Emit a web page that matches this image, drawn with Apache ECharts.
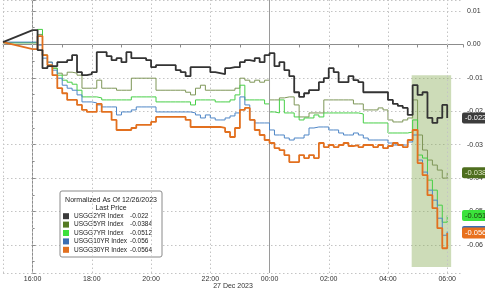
<!DOCTYPE html>
<html><head><meta charset="utf-8">
<script src="https://cdn.jsdelivr.net/npm/echarts@6/dist/echarts.min.js"></script>
<style>html,body{margin:0;padding:0;background:#fff}#c{width:485px;height:291px}</style>
</head><body><div id="c"></div>
<script>
const TIMES = ["16:00","16:10","16:20","16:30","16:40","16:50",
"17:00","17:10","17:20","17:30","17:40","17:50",
"18:00","18:10","18:20","18:30","18:40","18:50",
"19:00","19:10","19:20","19:30","19:40","19:50",
"20:00","20:10","20:20","20:30","20:40","20:50",
"21:00","21:10","21:20","21:30","21:40","21:50",
"22:00","22:10","22:20","22:30","22:40","22:50",
"23:00","23:10","23:20","23:30","23:40","23:50",
"00:00","00:10","00:20","00:30","00:40","00:50",
"01:00","01:10","01:20","01:30","01:40","01:50",
"02:00","02:10","02:20","02:30","02:40","02:50",
"03:00","03:10","03:20","03:30","03:40","03:50",
"04:00","04:10","04:20","04:30","04:40","04:50",
"05:00","05:10","05:20","05:30","05:40","05:50",
"06:00"];
const OPEN_TIME = "15:00";
const SERIES_NAMES = ["USGG2YR Index","USGG5YR Index","USGG7YR Index","USGG10YR Index","USGG30YR Index"];
const OPEN_VALUES = [0.0007, 0.0005, 0.0005, 0.0007, 0.0007];
const US2Y = [0.0043,-0.0017,-0.0071,-0.0065,-0.0065,-0.0053,-0.0053,-0.0047,-0.0032,-0.0083,
-0.0092,-0.0089,-0.0083,-0.0023,-0.0023,-0.0035,-0.0047,-0.0041,-0.0053,-0.0023,
-0.0041,-0.0041,-0.0041,-0.0047,-0.0068,-0.0062,-0.0062,-0.0062,-0.0062,-0.0077,
-0.0083,-0.0095,-0.0068,-0.0068,-0.0068,-0.0068,-0.0083,-0.0086,-0.0089,-0.0071,
-0.0068,-0.0068,-0.0053,-0.0047,-0.0050,-0.0041,-0.0053,-0.0032,-0.0026,-0.0065,
-0.0053,-0.0077,-0.0095,-0.0143,-0.0157,-0.0146,-0.0137,-0.0137,-0.0113,-0.0101,
-0.0071,-0.0083,-0.0113,-0.0113,-0.0095,-0.0107,-0.0113,-0.0143,-0.0143,-0.0143,
-0.0143,-0.0143,-0.0166,-0.0178,-0.0184,-0.0190,-0.0211,-0.0122,-0.0151,-0.0143,
-0.0220,-0.0235,-0.0220,-0.0181,-0.0220];
const US5Y = [0.0005,0.0030,-0.0032,-0.0053,-0.0071,-0.0086,-0.0092,-0.0083,-0.0086,-0.0092,
-0.0131,-0.0131,-0.0131,-0.0107,-0.0131,-0.0131,-0.0131,-0.0137,-0.0137,-0.0137,
-0.0101,-0.0101,-0.0101,-0.0101,-0.0101,-0.0137,-0.0137,-0.0137,-0.0137,-0.0137,
-0.0137,-0.0143,-0.0151,-0.0131,-0.0122,-0.0137,-0.0137,-0.0137,-0.0137,-0.0137,
-0.0137,-0.0131,-0.0101,-0.0107,-0.0113,-0.0107,-0.0113,-0.0107,-0.0166,-0.0166,
-0.0160,-0.0157,-0.0157,-0.0181,-0.0217,-0.0217,-0.0205,-0.0205,-0.0205,-0.0166,
-0.0166,-0.0166,-0.0166,-0.0166,-0.0166,-0.0178,-0.0178,-0.0196,-0.0196,-0.0196,
-0.0190,-0.0196,-0.0226,-0.0232,-0.0232,-0.0226,-0.0220,-0.0166,-0.0271,-0.0316,
-0.0346,-0.0361,-0.0376,-0.0400,-0.0384];
const US7Y = [0.0005,0.0045,-0.0032,-0.0062,-0.0071,-0.0092,-0.0107,-0.0113,-0.0119,-0.0137,
-0.0157,-0.0157,-0.0157,-0.0160,-0.0166,-0.0166,-0.0166,-0.0166,-0.0166,-0.0166,
-0.0157,-0.0157,-0.0157,-0.0157,-0.0157,-0.0172,-0.0172,-0.0172,-0.0172,-0.0172,
-0.0172,-0.0172,-0.0181,-0.0166,-0.0166,-0.0166,-0.0166,-0.0172,-0.0172,-0.0172,
-0.0166,-0.0151,-0.0122,-0.0166,-0.0166,-0.0166,-0.0166,-0.0178,-0.0202,-0.0205,
-0.0166,-0.0205,-0.0205,-0.0217,-0.0226,-0.0220,-0.0220,-0.0211,-0.0217,-0.0205,
-0.0205,-0.0205,-0.0205,-0.0205,-0.0205,-0.0205,-0.0208,-0.0235,-0.0235,-0.0235,
-0.0235,-0.0235,-0.0265,-0.0265,-0.0265,-0.0265,-0.0262,-0.0226,-0.0331,-0.0340,
-0.0406,-0.0436,-0.0481,-0.0532,-0.0512];
const US10Y = [0.0007,-0.0002,-0.0041,-0.0053,-0.0077,-0.0101,-0.0122,-0.0131,-0.0137,-0.0151,
-0.0172,-0.0172,-0.0175,-0.0181,-0.0187,-0.0187,-0.0187,-0.0211,-0.0202,-0.0202,
-0.0196,-0.0187,-0.0187,-0.0187,-0.0187,-0.0202,-0.0202,-0.0202,-0.0202,-0.0202,
-0.0202,-0.0202,-0.0205,-0.0211,-0.0220,-0.0211,-0.0220,-0.0226,-0.0226,-0.0220,
-0.0214,-0.0205,-0.0157,-0.0181,-0.0226,-0.0235,-0.0235,-0.0235,-0.0256,-0.0271,
-0.0271,-0.0280,-0.0286,-0.0280,-0.0280,-0.0271,-0.0250,-0.0247,-0.0247,-0.0247,
-0.0256,-0.0256,-0.0265,-0.0271,-0.0271,-0.0265,-0.0271,-0.0280,-0.0286,-0.0286,
-0.0286,-0.0286,-0.0295,-0.0301,-0.0301,-0.0301,-0.0292,-0.0271,-0.0346,-0.0382,
-0.0436,-0.0466,-0.0520,-0.0571,-0.0560];
const US30Y = [-0.0014,0.0025,-0.0032,-0.0062,-0.0092,-0.0131,-0.0146,-0.0166,-0.0166,-0.0181,
-0.0196,-0.0202,-0.0202,-0.0178,-0.0202,-0.0202,-0.0226,-0.0256,-0.0256,-0.0256,
-0.0250,-0.0241,-0.0241,-0.0241,-0.0232,-0.0217,-0.0217,-0.0217,-0.0217,-0.0217,
-0.0217,-0.0226,-0.0247,-0.0247,-0.0247,-0.0247,-0.0247,-0.0247,-0.0250,-0.0262,
-0.0277,-0.0250,-0.0196,-0.0190,-0.0226,-0.0256,-0.0271,-0.0286,-0.0295,-0.0310,
-0.0316,-0.0331,-0.0352,-0.0352,-0.0331,-0.0340,-0.0331,-0.0340,-0.0295,-0.0307,
-0.0301,-0.0307,-0.0301,-0.0295,-0.0304,-0.0301,-0.0307,-0.0301,-0.0301,-0.0307,
-0.0301,-0.0310,-0.0304,-0.0295,-0.0301,-0.0307,-0.0286,-0.0256,-0.0355,-0.0391,
-0.0451,-0.0490,-0.0550,-0.0610,-0.0564];
const LAST_PRICE = [-0.022, -0.0384, -0.0512, -0.056, -0.0564];
const X_GRID_TIMES = ["15:00","16:00","18:00","20:00","22:00","02:00","04:00","06:00"];
const DAY_BREAK = "00:00";
const X_END_TIME = "06:32";
const Y_RANGE = [-0.0684, 0.0133];
const HIGHLIGHT_TIMES = ["04:48","06:08"];
const HIGHLIGHT_VALUES = [-0.0092, -0.0666];
const LEGEND_TITLE = "Normalized As Of 12/26/2023\nLast Price";
const DATE_LABEL = "27 Dec 2023";

const SERIES_VALUES = [US2Y, US5Y, US7Y, US10Y, US30Y];
const LINE_COLORS = ['#333333', '#7e9658', '#47cf47', '#4f86c6', '#e2701f'];
const ICON_COLORS = ['#3a3a3a', '#557a24', '#3ee03e', '#3b6eb3', '#e2701f'];
const LINE_WIDTHS = [1.8, 1, 1, 1, 1.8];
const TAG_BG = ['#3c3c3c', '#4e6e1e', '#3be23b', '#3b6eb3', '#e8701c'];
const TAG_FG = ['#ffffff', '#dfe8c8', '#1b3a10', '#ffffff', '#ffffff'];
const Z = [6, 3, 4, 5, 5];

function hrs(s){ const p = s.split(':').map(Number); let v = p[0] + p[1]/60; if (v < 15) v += 24; return v - 16; }
const FONT = 'Liberation Sans, Arial, sans-serif';

const series = [];
SERIES_NAMES.forEach((name, i) => {
  series.push({
    name, type: 'line', step: 'end', symbol: 'none', z: Z[i], clip: false,
    data: TIMES.map((t, k) => [hrs(t), SERIES_VALUES[i][k]]),
    itemStyle: { color: ICON_COLORS[i] },
    lineStyle: { color: LINE_COLORS[i], width: LINE_WIDTHS[i] },
    markLine: {
      silent: true, symbol: ['none', 'none'], animation: false, precision: 4,
      lineStyle: { color: 'rgba(0,0,0,0)', width: 1, type: 'solid' },
      label: { show: true, position: 'end', distance: -1, formatter: String(LAST_PRICE[i]), opacity: 1,
        backgroundColor: TAG_BG[i], color: TAG_FG[i], fontSize: 7.5, fontFamily: FONT,
        padding: [2, 3, 1, 3], borderRadius: 2 },
      data: [{ yAxis: LAST_PRICE[i] }]
    }
  });
});
SERIES_NAMES.forEach((name, i) => {
  series.push({
    name, type: 'line', symbol: 'none', z: Z[i],
    data: [[hrs(OPEN_TIME), OPEN_VALUES[i]], [hrs(TIMES[0]), SERIES_VALUES[i][0]]],
    itemStyle: { color: ICON_COLORS[i] },
    lineStyle: { color: LINE_COLORS[i], width: LINE_WIDTHS[i] }
  });
});
series.push({
  name: 'grid', type: 'line', data: [], z: 1,
  markLine: {
    silent: true, symbol: ['none', 'none'], animation: false, label: { show: false }, precision: 4,
    data: X_GRID_TIMES.map(t => ({ xAxis: hrs(t), lineStyle: { color: '#c4c4c4', type: [1.5, 2.5], width: 1 } }))
      .concat([{ xAxis: hrs(DAY_BREAK), lineStyle: { color: '#9a9a9a', type: 'solid', width: 1 } }])
  },
  markArea: {
    silent: true, animation: false,
    itemStyle: { color: 'rgba(135,172,85,0.42)' },
    data: [[{ xAxis: hrs(HIGHLIGHT_TIMES[0]), yAxis: HIGHLIGHT_VALUES[0] }, { xAxis: hrs(HIGHLIGHT_TIMES[1]), yAxis: HIGHLIGHT_VALUES[1] }]]
  }
});

const chart = echarts.init(document.getElementById('c'), null, { renderer: 'canvas' });
chart.setOption({
  animation: false,
  textStyle: { fontFamily: FONT },
  grid: { left: 3, right: 22, top: 0, bottom: 18, containLabel: false, outerBoundsMode: 'none' },
  xAxis: {
    type: 'value', min: hrs(OPEN_TIME), max: hrs(X_END_TIME), interval: 1,
    name: DATE_LABEL, nameLocation: 'middle', nameGap: 10, nameMoveOverlap: false,
    nameTextStyle: { fontSize: 7, color: '#333', fontFamily: FONT, verticalAlign: 'top' },
    axisLine: { show: true, lineStyle: { color: '#8c8c8c' } },
    axisTick: { show: true, length: 3, lineStyle: { color: '#8c8c8c' } },
    axisLabel: { fontSize: 7, color: '#333', margin: 3, showMinLabel: true, showMaxLabel: true,
      formatter: v => (Number.isInteger(v) && v >= 0 && v % 2 === 0) ? String((v + 16) % 24).padStart(2, '0') + ':00' : '' },
    splitLine: { show: false }
  },
  yAxis: {
    type: 'value', position: 'right', min: Y_RANGE[0], max: Y_RANGE[1], splitNumber: 8,
    axisLine: { show: true, lineStyle: { color: '#8c8c8c' } },
    axisTick: { show: true, length: 3, lineStyle: { color: '#8c8c8c' } },
    minorTick: { show: true, splitNumber: 2, length: 2, lineStyle: { color: '#8c8c8c' } },
    axisLabel: { fontSize: 7, color: '#333', margin: 4,
      formatter: v => { const r = Math.round(v * 100); return Math.abs(v * 100 - r) < 1e-6 ? (r / 100).toFixed(2) : ''; } },
    splitLine: { show: true, lineStyle: { color: '#c4c4c4', type: [1.5, 2.5] } }
  },
  legend: {
    data: SERIES_NAMES, orient: 'vertical', left: 60, top: 191, selectedMode: false,
    padding: [21, 3, 3, 3], itemWidth: 6, itemHeight: 6, itemGap: 0, icon: 'rect',
    backgroundColor: '#fff', borderColor: '#8a8a8a', borderWidth: 1, borderRadius: 2,
    textStyle: { fontSize: 6.5, color: '#222', lineHeight: 8.4,
      rich: { n: { width: 56, fontSize: 6.5, color: '#222' }, v: { width: 29, fontSize: 6.5, color: '#222' } } },
    formatter: name => '{n|' + name + '}{v|' + LAST_PRICE[SERIES_NAMES.indexOf(name)] + '}'
  },
  graphic: [{
    type: 'text', x: 111, y: 196, z: 100,
    style: { text: LEGEND_TITLE, align: 'center', verticalAlign: 'top', fontSize: 7, lineHeight: 8.2, fill: '#222', fontFamily: FONT }
  }],
  series
});
</script></body></html>
